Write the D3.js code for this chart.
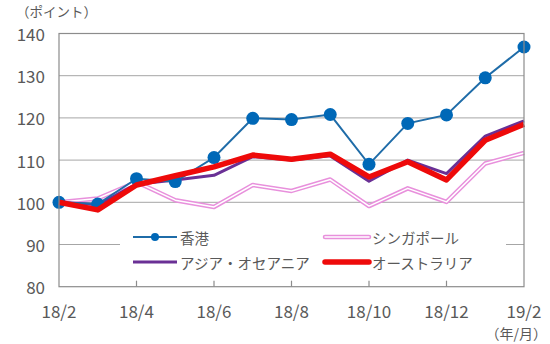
<!DOCTYPE html>
<html>
<head>
<meta charset="utf-8">
<script src="https://cdn.jsdelivr.net/npm/d3@7/dist/d3.min.js"></script>
<style>
  html, body { margin: 0; padding: 0; background: #fff; }
  svg { display: block; font-family: "Noto Sans CJK JP", "Noto Sans", sans-serif; }
</style>
</head>
<body>
<svg id="chart" width="550" height="344"></svg>
<script>
// Monthly index values, Feb 2018 = 100
const months = ["18/2","18/3","18/4","18/5","18/6","18/7","18/8","18/9","18/10","18/11","18/12","19/1","19/2"];
const tickLabels = ["18/2","18/4","18/6","18/8","18/10","18/12","19/2"];
const yTicks = [80, 90, 100, 110, 120, 130, 140];

const hongKong    = [100, 99.6, 105.6, 104.9, 110.6, 119.9, 119.6, 120.8, 109.0, 118.7, 120.7, 129.5, 136.8];
const singapore   = [100, 100.9, 104.8, 100.5, 98.9, 104.1, 102.7, 105.4, 99.1, 103.3, 100.1, 109.2, 111.7];
const asiaOceania = [100, 99.4, 104.3, 105.3, 106.4, 110.8, 110.0, 111.0, 105.0, 110.0, 106.8, 115.7, 119.3];
const australia   = [100, 98.2, 104.1, 106.3, 108.4, 111.2, 110.2, 111.4, 106.0, 109.6, 105.3, 114.7, 118.5];

const svg = d3.select("#chart");
const L = 59, R = 524, T = 33.5, B = 286.7;
const textColor = "#595959";

const x = d3.scalePoint().domain(months).range([L, R]);
const y = d3.scaleLinear().domain([80, 140]).range([B, T]);

// horizontal gridlines
svg.append("g").selectAll("line")
  .data(yTicks.filter(v => v > 80 && v < 140))
  .join("line")
  .attr("x1", L).attr("x2", R)
  .attr("y1", d => y(d)).attr("y2", d => y(d))
  .attr("stroke", "#a6a6a6").attr("stroke-width", 1);

// y-axis labels
svg.append("g").selectAll("text")
  .data(yTicks)
  .join("text")
  .attr("x", 45).attr("y", d => y(d))
  .attr("text-anchor", "end").attr("dominant-baseline", "central")
  .attr("font-size", 17).attr("fill", textColor)
  .text(d => d);

// x-axis labels
svg.append("g").selectAll("text")
  .data(tickLabels)
  .join("text")
  .attr("x", d => x(d)).attr("y", 318)
  .attr("text-anchor", "middle")
  .attr("font-size", 17).attr("fill", textColor)
  .text(d => d);

svg.append("text").attr("x", 16).attr("y", 17)
  .attr("font-size", 13.5).attr("fill", textColor).text("（ポイント）");
svg.append("text").attr("x", 547).attr("y", 339)
  .attr("text-anchor", "end")
  .attr("font-size", 14).attr("fill", textColor).text("（年/月）");

const line = d3.line().x((d, i) => x(months[i])).y(d => y(d));

// legend background hides gridlines behind it
svg.append("rect").attr("x", 120).attr("y", 222).attr("width", 386).attr("height", 58).attr("fill", "#fff");

// Singapore: pink double line
svg.append("path").datum(singapore).attr("d", line)
  .attr("fill", "none").attr("stroke", "#e890dc").attr("stroke-width", 4.5).attr("stroke-linejoin", "round");
svg.append("path").datum(singapore).attr("d", line)
  .attr("fill", "none").attr("stroke", "#fff").attr("stroke-width", 1.5).attr("stroke-linejoin", "round");

// Asia-Oceania
svg.append("path").datum(asiaOceania).attr("d", line)
  .attr("fill", "none").attr("stroke", "#6a3095").attr("stroke-width", 3).attr("stroke-linejoin", "round");

// Hong Kong with markers
svg.append("path").datum(hongKong).attr("d", line)
  .attr("fill", "none").attr("stroke", "#1f6ca8").attr("stroke-width", 2);
svg.append("g").selectAll("circle")
  .data(hongKong)
  .join("circle")
  .attr("cx", (d, i) => x(months[i])).attr("cy", d => y(d))
  .attr("r", 6.5).attr("fill", "#0068b7");

// Australia
svg.append("path").datum(australia).attr("d", line)
  .attr("fill", "none").attr("stroke", "#ee0a0a").attr("stroke-width", 5.5).attr("stroke-linejoin", "round");

// plot frame
svg.append("rect").attr("x", L).attr("y", T).attr("width", R - L).attr("height", B - T)
  .attr("fill", "none").attr("stroke", "#8c8c8c").attr("stroke-width", 1.2);

// x tick marks
svg.append("g").selectAll("line")
  .data(tickLabels.slice(1, -1))
  .join("line")
  .attr("x1", d => x(d)).attr("x2", d => x(d))
  .attr("y1", B).attr("y2", B - 6)
  .attr("stroke", "#8c8c8c").attr("stroke-width", 1.2);

// legend
const legend = [
  { name: "香港", x: 133, y: 237, kind: "hk" },
  { name: "アジア・オセアニア", x: 133, y: 262, kind: "ao" },
  { name: "シンガポール", x: 325, y: 237, kind: "sg" },
  { name: "オーストラリア", x: 325, y: 262, kind: "au" }
];
const lg = svg.append("g");
legend.forEach(e => {
  const x2 = e.x + 44;
  if (e.kind === "hk") {
    lg.append("line").attr("x1", e.x).attr("x2", x2).attr("y1", e.y).attr("y2", e.y)
      .attr("stroke", "#1f6ca8").attr("stroke-width", 2);
    lg.append("circle").attr("cx", (e.x + x2) / 2).attr("cy", e.y).attr("r", 4).attr("fill", "#0068b7");
  } else if (e.kind === "ao") {
    lg.append("line").attr("x1", e.x).attr("x2", x2).attr("y1", e.y).attr("y2", e.y)
      .attr("stroke", "#6a3095").attr("stroke-width", 3);
  } else if (e.kind === "sg") {
    lg.append("line").attr("x1", e.x).attr("x2", x2).attr("y1", e.y).attr("y2", e.y)
      .attr("stroke", "#e890dc").attr("stroke-width", 4.5).attr("stroke-linecap", "round");
    lg.append("line").attr("x1", e.x).attr("x2", x2).attr("y1", e.y).attr("y2", e.y)
      .attr("stroke", "#fff").attr("stroke-width", 1.5).attr("stroke-linecap", "round");
  } else {
    lg.append("line").attr("x1", e.x).attr("x2", x2).attr("y1", e.y).attr("y2", e.y)
      .attr("stroke", "#ee0a0a").attr("stroke-width", 5.5).attr("stroke-linecap", "round");
  }
  lg.append("text").attr("x", x2 + 3).attr("y", e.y).attr("dominant-baseline", "central")
    .attr("font-size", 14.5).attr("fill", textColor).text(e.name);
});
</script>
</body>
</html>
